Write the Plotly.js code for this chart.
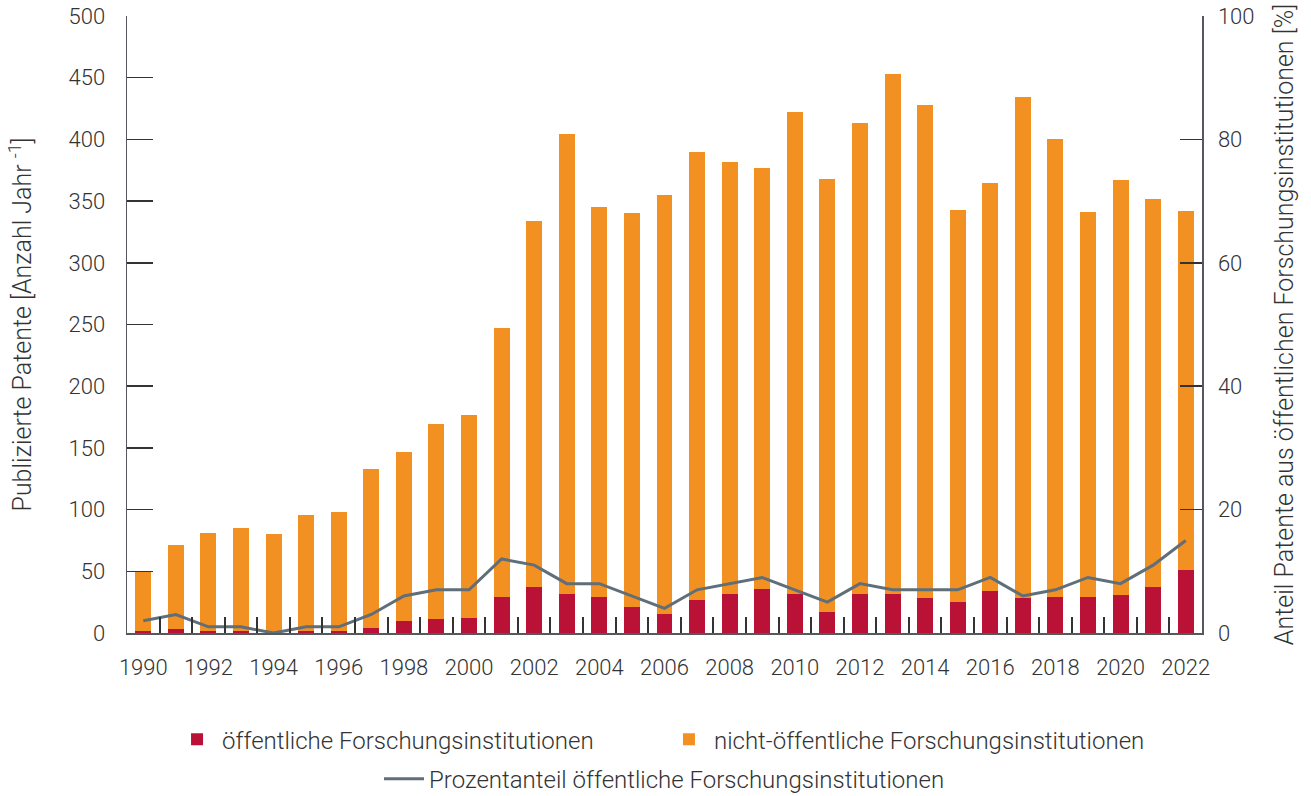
<!DOCTYPE html>
<html>
<head>
<meta charset="utf-8">
<script src="https://cdn.plot.ly/plotly-3.0.1.min.js"></script>
<style>html,body{margin:0;padding:0;background:#fff;}#chart{width:1311px;height:796px;}</style>
</head>
<body>
<div id="chart"></div>
<script>
const years = [1990,1991,1992,1993,1994,1995,1996,1997,1998,1999,2000,2001,2002,2003,2004,2005,2006,2007,2008,2009,2010,2011,2012,2013,2014,2015,2016,2017,2018,2019,2020,2021,2022];
const totalPatents = [50,71,81,85,80,96,98,133,147,169,177,247,334,404,345,340,355,390,382,377,422,368,413,453,428,343,365,434,400,341,367,352,342];
const publicPatents = [2,3,2,2,0,2,2,4,10,11,12,29,37,32,29,21,15,27,32,36,32,17,32,32,28,25,34,28,29,29,31,37,51];
const publicShare = [2,3,1,1,0,1,1,3,6,7,7,12,11,8,8,6,4,7,8,9,7,5,8,7,7,7,9,6,7,9,8,11,15];
const xTickLabels = [1990,1992,1994,1996,1998,2000,2002,2004,2006,2008,2010,2012,2014,2016,2018,2020,2022];
const leftTicks = [0,50,100,150,200,250,300,350,400,450,500];
const rightTicks = [0,20,40,60,80,100];

const privatePatents = totalPatents.map((t,i)=>t-publicPatents[i]);
const boundaries = years.slice(0,-1).map(y=>y+0.5);

const FONT = "Roboto, 'DejaVu Sans', sans-serif";
const TXT = '#333333';
const AX = '#55585c';

const traces = [
  {type:'bar', x:years, y:publicPatents, name:'öffentliche Forschungsinstitutionen',
   marker:{color:'#BA1237'}, width:0.49, legend:'legend', hoverinfo:'x+y'},
  {type:'bar', x:years, y:privatePatents, name:'nicht-öffentliche Forschungsinstitutionen',
   marker:{color:'#F39022'}, width:0.49, legend:'legend3', hoverinfo:'x+y'},
  {type:'scatter', mode:'lines', x:years, y:publicShare, yaxis:'y2',
   name:'Prozentanteil öffentliche Forschungsinstitutionen',
   line:{color:'#5F6E78', width:3}, legend:'legend2'},
  {type:'scatter', mode:'lines', x:boundaries, y:boundaries.map(()=>null), xaxis:'x2',
   showlegend:false, hoverinfo:'skip'}
];

const legendCommon = {orientation:'h', yanchor:'middle', font:{size:24, color:TXT}, itemwidth:40, bgcolor:'rgba(0,0,0,0)'};

const layout = {
  width:1311, height:796,
  margin:{l:127, r:109, t:16, b:163, autoexpand:false},
  paper_bgcolor:'#fff', plot_bgcolor:'#fff',
  font:{family:FONT, size:22, color:TXT, weight:300},
  barmode:'stack',
  showlegend:true,
  xaxis:{range:[1989.5,2022.5], tickvals:xTickLabels, ticktext:xTickLabels.map(String),
    ticks:'', showgrid:false, zeroline:false, showline:true, linecolor:AX, linewidth:1.5,
    ticklabelstandoff:14, tickfont:{size:22, color:TXT}},
  xaxis2:{overlaying:'x', anchor:'y', side:'bottom', range:[1989.5,2022.5], tickvals:boundaries,
    showticklabels:false, ticks:'inside', ticklen:16, tickwidth:2, tickcolor:'#333',
    showgrid:false, zeroline:false, showline:false},
  yaxis:{range:[0,500], tickvals:leftTicks, ticks:'inside', ticklen:26, tickwidth:1.5, tickcolor:'#333',
    showgrid:false, zeroline:false, showline:true, linecolor:AX, linewidth:1.5,
    ticklabelstandoff:16, tickfont:{size:22, color:TXT},
    title:{text:'Publizierte Patente [Anzahl Jahr <sup>-1</sup>]', font:{size:25, color:TXT}, standoff:29}},
  yaxis2:{overlaying:'y', side:'right', range:[0,100], tickvals:rightTicks, ticks:'inside', ticklen:22,
    tickwidth:1.5, tickcolor:'#333', showgrid:false, zeroline:false, showline:true, linecolor:AX, linewidth:1.5,
    ticklabelstandoff:10, tickfont:{size:22, color:TXT},
    title:{text:'Anteil Patente aus öffentlichen Forschungsinstitutionen [%]', font:{size:25, color:TXT}, standoff:22}},
  legend: Object.assign({}, legendCommon, {x:0.0419, xanchor:'left', y:-0.173}),
  legend3: Object.assign({}, legendCommon, {x:0.4995, xanchor:'left', y:-0.173}),
  legend2: Object.assign({}, legendCommon, {x:0.5, xanchor:'center', y:-0.237})
};

Plotly.newPlot('chart', traces, layout, {displayModeBar:false, staticPlot:true});
</script>
</body>
</html>
